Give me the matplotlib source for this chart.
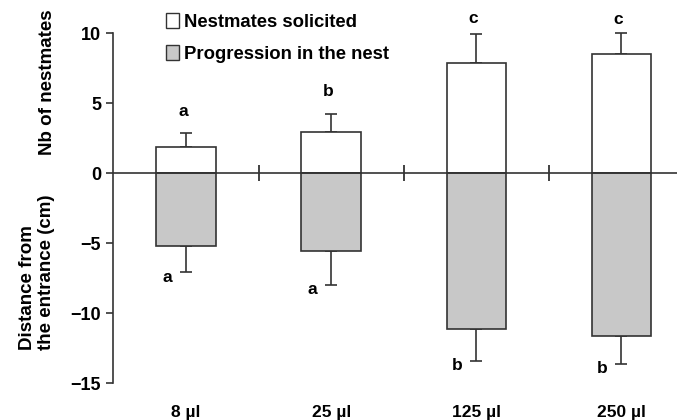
import matplotlib
matplotlib.use("Agg")
import matplotlib.pyplot as plt
from matplotlib.patches import Patch

plt.rcParams['font.family'] = ['Liberation Sans', 'DejaVu Sans']
plt.rcParams['font.weight'] = 'bold'

categories = ["8 \u00b5l", "25 \u00b5l", "125 \u00b5l", "250 \u00b5l"]
solicited = [1.85, 2.9, 7.85, 8.5]
solicited_err = [1.0, 1.3, 2.05, 1.5]
progression = [-5.2, -5.55, -11.15, -11.65]
progression_err = [1.9, 2.45, 2.3, 2.0]
top_letters = ["a", "b", "c", "c"]
bottom_letters = ["a", "a", "b", "b"]

edge = "#333333"
grey = "#c8c8c8"

fig = plt.figure(figsize=(6.77, 4.2), dpi=100)
ax = fig.add_axes([113/677, 30/420, 1 - 113/677, 378/420])
x = list(range(len(categories)))
w = 0.41

ax.bar(x, solicited, width=w, color="white", edgecolor=edge, linewidth=1.2, zorder=2)
ax.bar(x, progression, width=w, color=grey, edgecolor=edge, linewidth=1.2, zorder=2)
ax.errorbar(x, solicited, yerr=[[0]*4, solicited_err], fmt="none", ecolor=edge,
            elinewidth=1.2, capsize=4, capthick=1.2, zorder=1)
ax.errorbar(x, progression, yerr=[progression_err, [0]*4], fmt="none", ecolor=edge,
            elinewidth=1.2, capsize=4, capthick=1.2, zorder=1)

ax.axhline(0, color=edge, lw=1.2, zorder=3)
ax.plot([0.5, 1.5, 2.5], [0, 0, 0], ls="none", marker="|", ms=12, mew=1.3, color=edge, zorder=3)

# letter placement: gap above error bar top (in data units)
top_gap = [1.2, 1.3, 0.8, 0.65]
for i in x:
    ax.text(i - 0.02, solicited[i] + solicited_err[i] + top_gap[i], top_letters[i],
            ha="center", va="baseline", fontsize=12.5, fontweight="bold")
    ax.text(i - 0.13, progression[i] - progression_err[i] + 0.2, bottom_letters[i],
            ha="center", va="top", fontsize=12.5, fontweight="bold")

ax.set_xlim(-0.503, 3.383)
ax.set_ylim(-15.5, 11.5)
ax.set_yticks([10, 5, 0, -5, -10, -15])
ax.tick_params(axis="y", labelsize=13, width=1.2, length=5, color=edge)
ax.set_xticks([])
for s in ["top", "right", "bottom"]:
    ax.spines[s].set_visible(False)
ax.spines["left"].set_bounds(-15, 10)
ax.spines["left"].set_color(edge)
ax.spines["left"].set_linewidth(1.2)
for lab in ax.get_yticklabels():
    lab.set_fontweight("bold")

for i, c in enumerate(categories):
    ax.text(i, -17.1, c, ha="center", va="center", fontsize=12.5, fontweight="bold")

fig.text(48/677, 1 - 82/420, "Nb of nestmates", rotation=90, ha="center", va="center",
         fontsize=13.5, fontweight="bold")
fig.text(37/677, 1 - 350/420, "Distance from\nthe entrance (cm)", rotation=90,
         ha="center", va="bottom", multialignment="left",
         fontsize=13.5, fontweight="bold", linespacing=1.1)

handles = [Patch(facecolor="white", edgecolor=edge, lw=1.0, label="Nestmates solicited"),
           Patch(facecolor=grey, edgecolor=edge, lw=1.0, label="Progression in the nest")]
leg = ax.legend(handles=handles, loc="upper left", bbox_to_anchor=(166/677, 1 - 13/420),
                bbox_transform=fig.transFigure, frameon=False, handlelength=0.7,
                handleheight=0.9, handletextpad=0.3, labelspacing=0.75,
                prop={"size": 13.3, "weight": "bold"}, borderpad=0, borderaxespad=0)

fig.savefig("out.png", dpi=100)
